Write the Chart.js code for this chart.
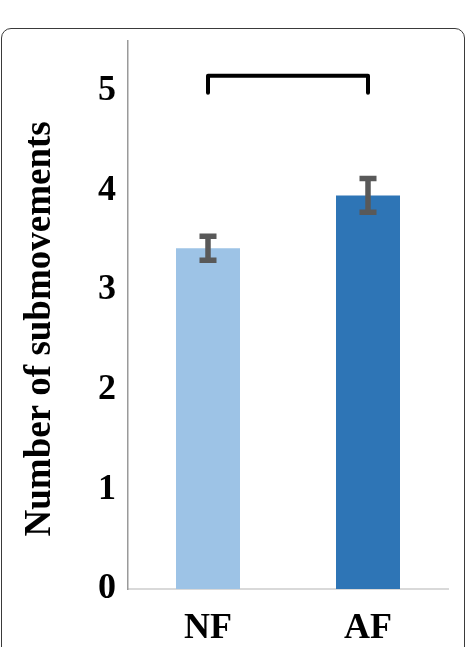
<!DOCTYPE html>
<html>
<head>
<meta charset="utf-8">
<script src="https://cdn.jsdelivr.net/npm/chart.js@4.4.1/dist/chart.umd.min.js"></script>
<style>
  html, body { margin: 0; padding: 0; background: #fff; overflow: hidden; }
  #wrap { position: relative; width: 467px; height: 647px; }
  #frame {
    position: absolute; left: 1px; top: 28px; width: 462px; height: 700px;
    border: 1.5px solid #3a3a3a; border-radius: 10px;
  }
  canvas { position: absolute; left: 0; top: 0; }
</style>
</head>
<body>
<div id="wrap">
  <div id="frame"></div>
  <canvas id="chart" width="467" height="647"></canvas>
</div>
<script>
const groups = ['NF', 'AF'];
const means = [3.42, 3.95];
const errors = [0.12, 0.17];
const barColors = ['#9DC3E6', '#2E75B6'];
const yTicks = [0, 1, 2, 3, 4, 5];
// significance bracket between the two groups
const bracketTop = 5.15;
const bracketBottom = 4.98;

const serif = "'Liberation Serif', 'Times New Roman', serif";

const errorBars = {
  id: 'errorBars',
  afterDatasetsDraw(chart) {
    const ctx = chart.ctx;
    const y = chart.scales.y;
    const meta = chart.getDatasetMeta(0);
    ctx.save();
    ctx.strokeStyle = '#595959';
    ctx.lineWidth = 5.5;
    meta.data.forEach((bar, i) => {
      const top = y.getPixelForValue(means[i] + errors[i]);
      const bot = y.getPixelForValue(means[i] - errors[i]);
      ctx.beginPath();
      ctx.moveTo(bar.x, top);
      ctx.lineTo(bar.x, bot);
      ctx.moveTo(bar.x - 8.5, top);
      ctx.lineTo(bar.x + 8.5, top);
      ctx.moveTo(bar.x - 8.5, bot);
      ctx.lineTo(bar.x + 8.5, bot);
      ctx.stroke();
    });
    ctx.restore();
  }
};

const bracket = {
  id: 'bracket',
  afterDatasetsDraw(chart) {
    const ctx = chart.ctx;
    const x = chart.scales.x;
    const y = chart.scales.y;
    const x1 = x.getPixelForValue(0);
    const x2 = x.getPixelForValue(1);
    const yt = y.getPixelForValue(bracketTop);
    const yb = y.getPixelForValue(bracketBottom);
    ctx.save();
    ctx.strokeStyle = '#000';
    ctx.lineWidth = 4;
    ctx.lineCap = 'round';
    ctx.lineJoin = 'round';
    ctx.beginPath();
    ctx.moveTo(x1, yb);
    ctx.lineTo(x1, yt);
    ctx.lineTo(x2, yt);
    ctx.lineTo(x2, yb);
    ctx.stroke();
    ctx.restore();
  }
};

new Chart(document.getElementById('chart'), {
  type: 'bar',
  data: {
    labels: groups,
    datasets: [{
      data: means,
      backgroundColor: barColors,
      barPercentage: 0.4,
      categoryPercentage: 1
    }]
  },
  options: {
    responsive: false,
    animation: false,
    layout: { padding: { top: 41, right: 19, bottom: 0, left: 0 } },
    plugins: { legend: { display: false }, tooltip: { enabled: false } },
    scales: {
      x: {
        grid: { display: false, drawTicks: false },
        border: { color: '#D9D9D9', width: 2 },
        ticks: { color: '#000', padding: 18, font: { family: serif, size: 36, weight: 'bold' } },
        afterFit(scale) { scale.height = 58; }
      },
      y: {
        min: 0,
        max: 5.5,
        grid: { display: false, drawTicks: false },
        border: { color: '#9A9A9A', width: 1.5 },
        afterBuildTicks(scale) { scale.ticks = yTicks.map(v => ({ value: v })); },
        ticks: { color: '#000', padding: 12, font: { family: serif, size: 36, weight: 'bold' } },
        title: {
          display: true,
          text: 'Number of submovements   ',
          color: '#000',
          padding: { top: 18, bottom: 0 },
          font: { family: serif, size: 37, weight: 'bold' }
        },
        afterFit(scale) { scale.width = 128; }
      }
    }
  },
  plugins: [errorBars, bracket]
});
</script>
</body>
</html>
